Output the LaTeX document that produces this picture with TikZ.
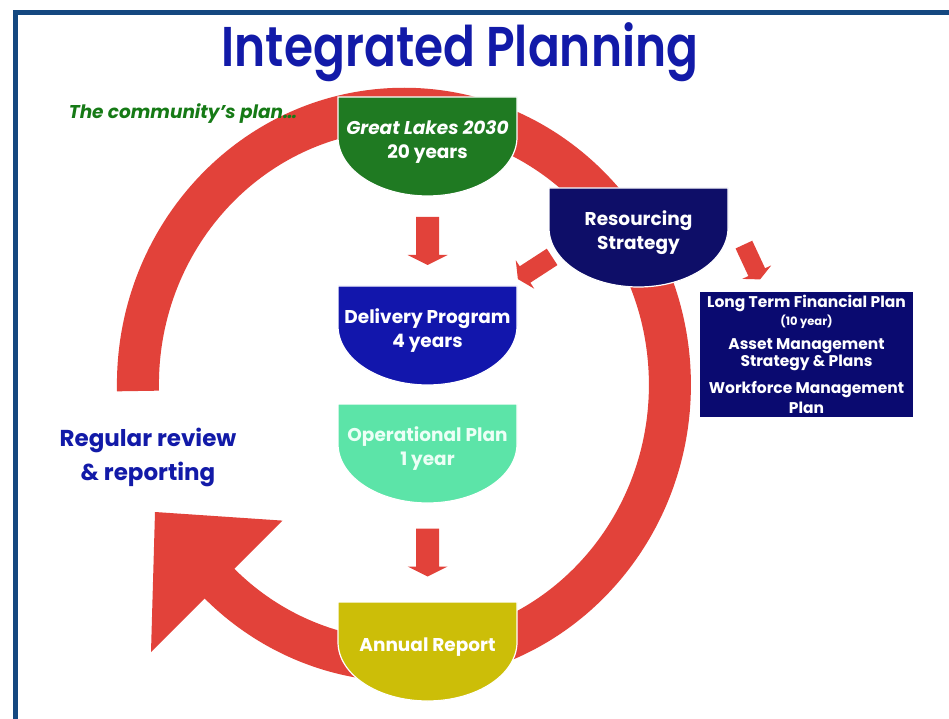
\documentclass[tikz,border=0pt]{standalone}
\usepackage{fontspec}
\setmainfont{Poppins}
\newfontfamily\titlefont{Poppins SemiBold}[FakeStretch=0.84]
\usetikzlibrary{calc}

\definecolor{framecol}{RGB}{20,72,128}
\definecolor{ringred}{RGB}{226,66,58}
\definecolor{titleblue}{RGB}{18,26,168}
\definecolor{commgreen}{RGB}{22,122,22}
\definecolor{glgreen}{RGB}{31,122,34}
\definecolor{rsnavy}{RGB}{14,14,104}
\definecolor{ltnavy}{RGB}{10,10,112}
\definecolor{dpblue}{RGB}{18,22,172}
\definecolor{opmint}{RGB}{92,228,168}
\definecolor{aryellow}{RGB}{204,190,8}

\tikzset{
  boxtext/.style={text=white, align=center, inner sep=0pt,
    font=\fontsize{18.5}{24}\selectfont\bfseries},
  sidetext/.style={text=white, inner sep=0pt, font=\fontsize{15.5}{17}\selectfont\bfseries},
  blockarrow/.pic={
    \fill[ringred] (-11.5,24) -- (11.5,24) -- (11.5,-14) -- (20,-14) -- (0,-24)
      -- (-20,-14) -- (-11.5,-14) -- cycle;
  }
}

% planning box: flat top, straight sides, rounded bottom
% #1 name, #2 x-centre, #3 y-top, #4 fill colour, #5 text style, #6 text
\newcommand\planbox[6]{%
  \fill[#4, draw=white, line width=1.2] (#2-89.5,#3) -- (#2+89.5,#3) -- (#2+89.5,#3-40)
    arc[start angle=0, end angle=-180, x radius=89.5, y radius=59] -- cycle;
  \coordinate (#1-top) at (#2,#3);
  \coordinate (#1-bot) at (#2,#3-99);
  \node[boxtext, #5] (#1) at (#2,#3-45) {#6};
}

\begin{document}
\begin{tikzpicture}[x=1pt,y=1pt]
\useasboundingbox (0,0) rectangle (949,718);
\fill[white] (0,0) rectangle (949,718);

% frame
\draw[framecol, line width=5] (15,-10) -- (15,705.5) -- (960,705.5);

% review cycle ring with its arrow head
\def\cx{404}
\def\cy{321}
\draw[ringred, line width=42] (\cx-266,\cy+6)
  arc[start angle=181.3, end angle=-138, x radius=266, y radius=276];
\fill[ringred] (282.4,197.4) -- (155,206) -- (151,66) -- cycle;

% title and captions
\node[text=titleblue, inner sep=0pt] (title) at (460,666)
  {\titlefont\fontsize{56}{60}\selectfont Integrated Planning};
\node[text=commgreen, inner sep=0pt] (comm) at (183,604)
  {\fontsize{18.5}{20}\selectfont\bfseries\itshape The community’s plan…};
\node[text=titleblue, align=center, inner sep=0pt,
  font=\fontsize{23}{34}\selectfont\bfseries] (review) at (148,261)
  {Regular review\\\& reporting};

% planning stages
\planbox{gl}{427.5}{621}{glgreen}{}{{\itshape Great Lakes 2030}\\20 years}
\planbox{rs}{638.5}{530}{rsnavy}{}{Resourcing\\Strategy}
\planbox{dp}{427.5}{432}{dpblue}{}{Delivery Program\\4 years}
\planbox{op}{427.5}{314}{opmint}{text={rgb,255:red,236;green,255;blue,246}}{Operational Plan\\1 year}
\planbox{ar}{427.5}{116}{aryellow}{}{Annual Report}

% resourcing components
\node[fill=ltnavy, minimum width=213, minimum height=125, inner sep=0pt,
  anchor=north west] (lt) at (700,426) {};
\node[sidetext] (lt1) at (806.5,415) {Long Term Financial Plan};
\node[sidetext, font=\fontsize{11.5}{13}\selectfont\bfseries] (lt2) at (806.5,396) {(10 year)};
\node[sidetext] (lt3) at (806.5,372) {Asset Management};
\node[sidetext] (lt4) at (806.5,355) {Strategy \& Plans};
\node[sidetext] (lt5) at (806.5,328) {Workforce Management};
\node[sidetext] (lt6) at (806.5,310) {Plan};

% block arrows between stages
\pic at ($(gl-bot)!0.5!(dp-top)$) {blockarrow};
\pic at ($(op-bot)!0.5!(ar-top)$) {blockarrow};
\pic[rotate=-57, scale=0.85] at (535,450) {blockarrow};
\pic[rotate=25, scale=0.8] at (752,456) {blockarrow};
\end{tikzpicture}
\end{document}
